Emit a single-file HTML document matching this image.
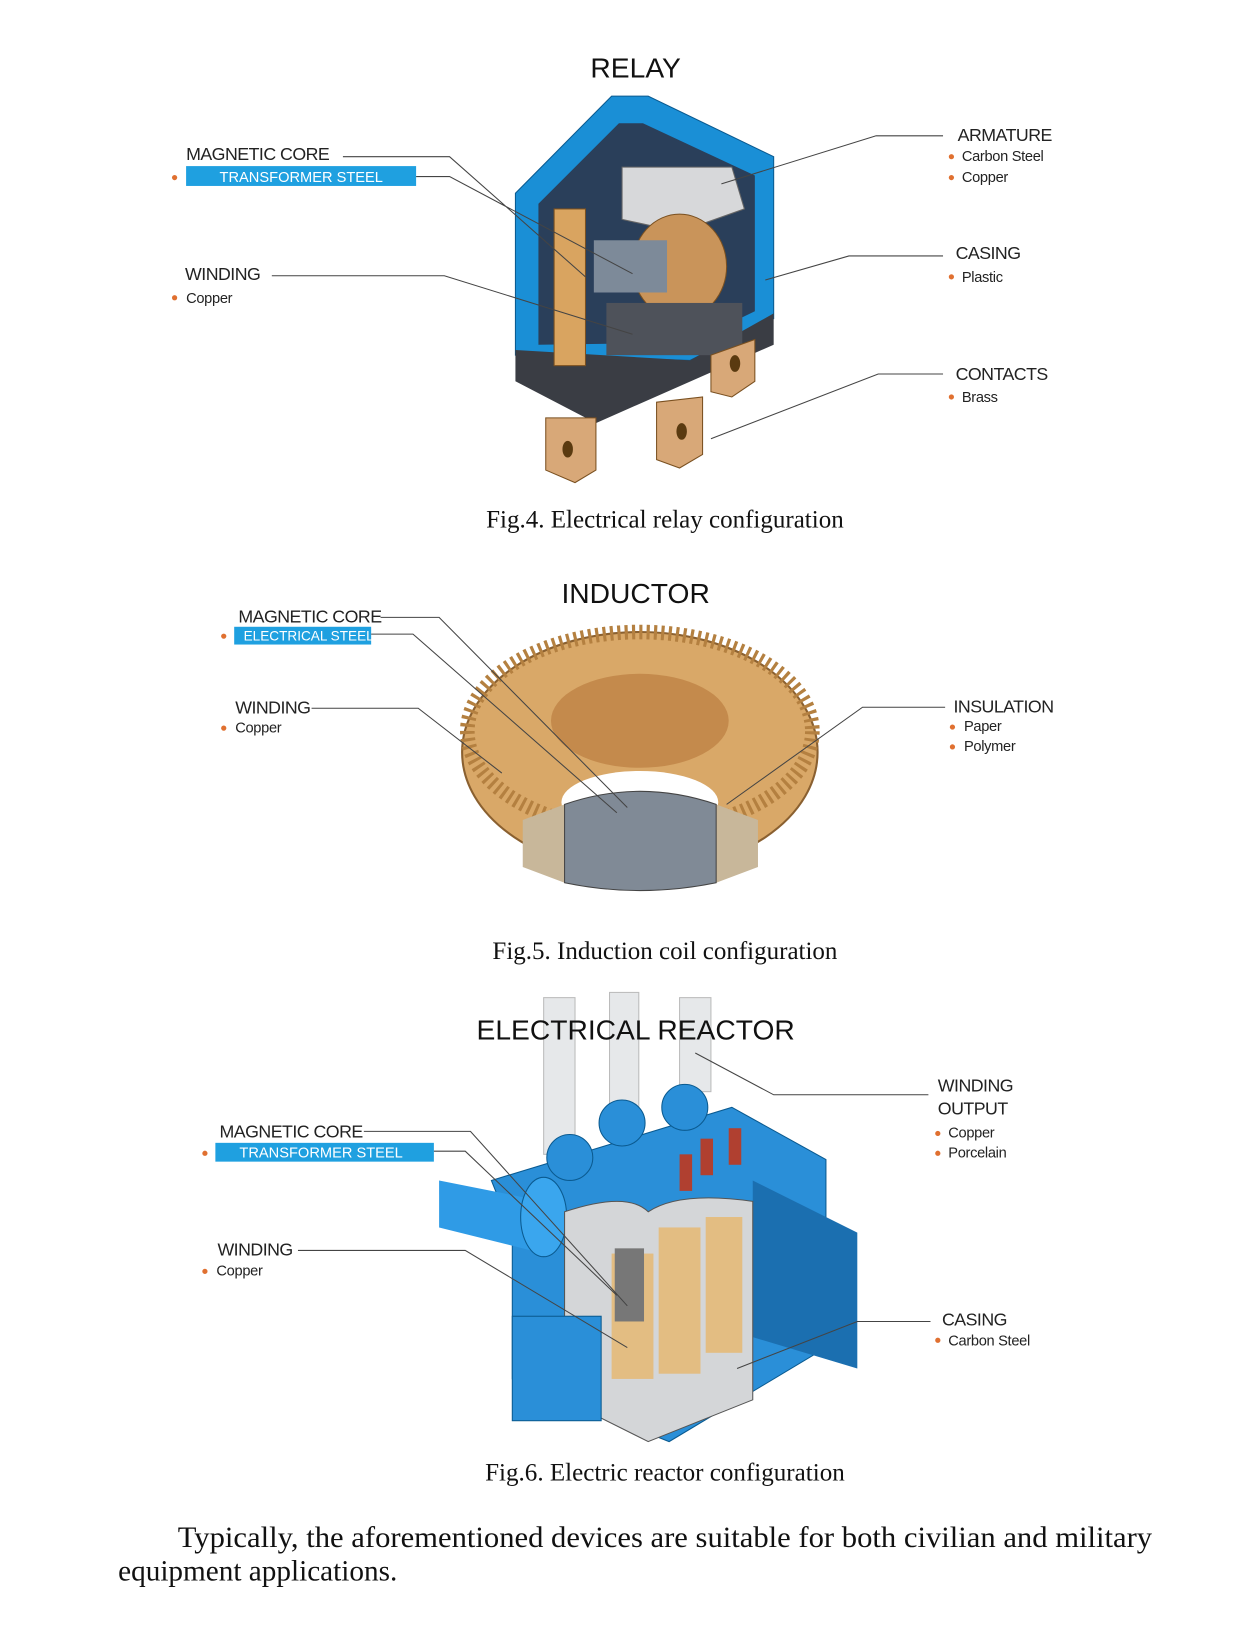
<!DOCTYPE html>
<html><head><meta charset="utf-8"><style>
html,body{margin:0;padding:0;background:#fff;}
svg{display:block}
.l{font-family:"Liberation Sans",sans-serif;font-size:17px;fill:#222;letter-spacing:-0.5px}
.s{font-family:"Liberation Sans",sans-serif;font-size:14px;fill:#222;letter-spacing:-0.3px}
.h{font-family:"Liberation Sans",sans-serif;font-size:27px;fill:#111}
.c{font-family:"Liberation Serif",serif;font-size:24px;fill:#111}
.b{font-family:"Liberation Serif",serif;font-size:28px;fill:#111}
.w{font-family:"Liberation Sans",sans-serif;font-size:14px;fill:#fff}
.ln{fill:none;stroke:#444;stroke-width:1}
</style></head><body>
<svg width="1241" height="1638" viewBox="0 0 1187 1568" preserveAspectRatio="none" xmlns="http://www.w3.org/2000/svg">
<!-- RELAY -->
<text class="h" x="608" y="74" text-anchor="middle">RELAY</text>
<polygon points="493,185 585,92 620,92 740,150 740,305 660,345 493,340" fill="#1a8fd6" stroke="#0a5a90"/>
<polygon points="515,195 592,118 615,118 722,168 722,298 660,328 515,330" fill="#2a3f5a"/>
<polygon points="493,335 660,345 740,300 740,330 570,405 493,365" fill="#3a3d44"/>
<polygon points="595,160 700,160 712,200 650,222 595,210" fill="#d7d8da" stroke="#666"/>
<rect x="530" y="200" width="30" height="150" fill="#d9a460" stroke="#7a5020"/>
<ellipse cx="650" cy="255" rx="45" ry="50" fill="#c9945a" stroke="#7a5020"/>
<rect x="568" y="230" width="70" height="50" fill="#7d8a99"/>
<rect x="580" y="290" width="130" height="50" fill="#4e525a"/>
<polygon points="522,400 570,400 570,450 550,462 522,450" fill="#d8a878" stroke="#7a5020"/>
<polygon points="628,385 672,380 672,435 650,448 628,440" fill="#d8a878" stroke="#7a5020"/>
<polygon points="680,340 722,325 722,365 700,380 680,375" fill="#d8a878" stroke="#7a5020"/>
<ellipse cx="543" cy="430" rx="5" ry="8" fill="#5a3a10"/><ellipse cx="652" cy="413" rx="5" ry="8" fill="#5a3a10"/><ellipse cx="703" cy="348" rx="5" ry="8" fill="#5a3a10"/>
<text class="l" x="178" y="153">MAGNETIC CORE</text>
<rect x="178" y="159" width="220" height="19" fill="#1fa0e0"/>
<text class="w" x="210" y="174">TRANSFORMER STEEL</text>
<circle cx="167" cy="170" r="2.5" fill="#e07030"/>
<path class="ln" d="M328,150 H430 L560,265 M398,169 H430 L605,262"/>
<text class="l" x="177" y="268">WINDING</text>
<circle cx="167" cy="285" r="2.5" fill="#e07030"/><text class="s" x="178" y="290">Copper</text>
<path class="ln" d="M260,264 H425 L605,320"/>
<text class="l" x="916" y="135">ARMATURE</text>
<circle cx="910" cy="150" r="2.5" fill="#e07030"/><text class="s" x="920" y="154">Carbon Steel</text>
<circle cx="910" cy="170" r="2.5" fill="#e07030"/><text class="s" x="920" y="174">Copper</text>
<path class="ln" d="M902,130 H838 L690,176"/>
<text class="l" x="914" y="248">CASING</text>
<circle cx="910" cy="265" r="2.5" fill="#e07030"/><text class="s" x="920" y="270">Plastic</text>
<path class="ln" d="M902,245 H812 L732,268"/>
<text class="l" x="914" y="364">CONTACTS</text>
<circle cx="910" cy="380" r="2.5" fill="#e07030"/><text class="s" x="920" y="385">Brass</text>
<path class="ln" d="M902,358 H840 L680,420"/>
<text class="c" x="465" y="505" textLength="342" lengthAdjust="spacingAndGlyphs">Fig.4. Electrical relay configuration</text>
<!-- INDUCTOR -->
<text class="h" x="608" y="577" text-anchor="middle">INDUCTOR</text>
<ellipse cx="612" cy="720" rx="170" ry="115" fill="#d9a868" stroke="#8a6030" stroke-width="2"/>
<ellipse cx="612" cy="700" rx="165" ry="95" fill="none" stroke="#b48040" stroke-width="14" stroke-dasharray="3 4"/>
<ellipse cx="612" cy="690" rx="85" ry="45" fill="#c48a4c"/>
<ellipse cx="612" cy="768" rx="75" ry="30" fill="#fff"/>
<polygon points="500,785 540,770 540,845 500,830" fill="#c8b79a"/>
<polygon points="685,770 725,785 725,830 685,845" fill="#c8b79a"/>
<path d="M540,770 Q612,745 685,770 V845 Q612,860 540,845 Z" fill="#808a96" stroke="#444"/>
<text class="l" x="228" y="596">MAGNETIC CORE</text>
<rect x="224" y="600" width="131" height="17" fill="#1fa0e0"/>
<text class="w" x="233" y="613" style="font-size:13px">ELECTRICAL STEEL</text>
<circle cx="214" cy="609" r="2.5" fill="#e07030"/>
<path class="ln" d="M364,591 H420 L600,773 M355,607 H395 L590,778"/>
<text class="l" x="225" y="683">WINDING</text>
<circle cx="214" cy="697" r="2.5" fill="#e07030"/><text class="s" x="225" y="701">Copper</text>
<path class="ln" d="M298,678 H400 L480,740"/>
<text class="l" x="912" y="682">INSULATION</text>
<circle cx="911" cy="696" r="2.5" fill="#e07030"/><text class="s" x="922" y="700">Paper</text>
<circle cx="911" cy="715" r="2.5" fill="#e07030"/><text class="s" x="922" y="719">Polymer</text>
<path class="ln" d="M904,677 H825 L695,770"/>
<text class="c" x="471" y="918" textLength="330" lengthAdjust="spacingAndGlyphs">Fig.5. Induction coil configuration</text>
<!-- REACTOR -->
<g fill="#e6e8ea" stroke="#bbb">
<rect x="520" y="955" width="30" height="150"/><rect x="583" y="950" width="28" height="110"/><rect x="650" y="955" width="30" height="90"/>
</g>
<text class="h" x="608" y="995" text-anchor="middle">ELECTRICAL REACTOR</text>
<polygon points="470,1130 700,1060 790,1110 790,1290 640,1380 490,1320 490,1180" fill="#2a8fd8" stroke="#0a5a90"/>
<polygon points="720,1130 820,1180 820,1310 720,1280" fill="#1b6fb0"/>
<polygon points="420,1130 520,1150 520,1200 420,1175" fill="#2f9be6"/>
<ellipse cx="520" cy="1165" rx="22" ry="38" fill="#3aa6ee" stroke="#0a5a90"/>
<circle cx="545" cy="1108" r="22" fill="#2a8fd8" stroke="#0a5a90"/><circle cx="595" cy="1075" r="22" fill="#2a8fd8" stroke="#0a5a90"/><circle cx="655" cy="1060" r="22" fill="#2a8fd8" stroke="#0a5a90"/>
<path d="M540,1160 Q600,1140 620,1160 Q650,1140 720,1150 V1340 L620,1380 L540,1340 Z" fill="#d4d6d8" stroke="#555"/>
<rect x="585" y="1200" width="40" height="120" fill="#e3bd82"/><rect x="630" y="1175" width="40" height="140" fill="#e3bd82"/><rect x="675" y="1165" width="35" height="130" fill="#e3bd82"/>
<rect x="588" y="1195" width="28" height="70" fill="#777"/>
<rect x="490" y="1260" width="85" height="100" fill="#2a8fd8" stroke="#0a5a90"/>
<g fill="#b04030"><rect x="650" y="1105" width="12" height="35"/><rect x="670" y="1090" width="12" height="35"/><rect x="697" y="1080" width="12" height="35"/></g>
<text class="l" x="210" y="1089">MAGNETIC CORE</text>
<rect x="206" y="1094" width="209" height="18" fill="#1fa0e0"/>
<text class="w" x="229" y="1108">TRANSFORMER STEEL</text>
<circle cx="196" cy="1104" r="2.5" fill="#e07030"/>
<path class="ln" d="M348,1083 H450 L600,1250 M415,1102 H445 L590,1240"/>
<text class="l" x="208" y="1202">WINDING</text>
<circle cx="196" cy="1217" r="2.5" fill="#e07030"/><text class="s" x="207" y="1221">Copper</text>
<path class="ln" d="M285,1197 H445 L600,1290"/>
<text class="l" x="897" y="1045">WINDING</text>
<text class="l" x="897" y="1067">OUTPUT</text>
<circle cx="897" cy="1085" r="2.5" fill="#e07030"/><text class="s" x="907" y="1089">Copper</text>
<circle cx="897" cy="1104" r="2.5" fill="#e07030"/><text class="s" x="907" y="1108">Porcelain</text>
<path class="ln" d="M888,1048 H740 L665,1008"/>
<text class="l" x="901" y="1269">CASING</text>
<circle cx="897" cy="1283" r="2.5" fill="#e07030"/><text class="s" x="907" y="1288">Carbon Steel</text>
<path class="ln" d="M890,1265 H820 L705,1310"/>
<text class="c" x="464" y="1417" textLength="344" lengthAdjust="spacingAndGlyphs">Fig.6. Electric reactor configuration</text>
<text class="b" x="170" y="1481" textLength="932" lengthAdjust="spacingAndGlyphs">Typically, the aforementioned devices are suitable for both civilian and military</text>
<text class="b" x="113" y="1513" textLength="267" lengthAdjust="spacingAndGlyphs">equipment applications.</text>
</svg>
</body></html>
